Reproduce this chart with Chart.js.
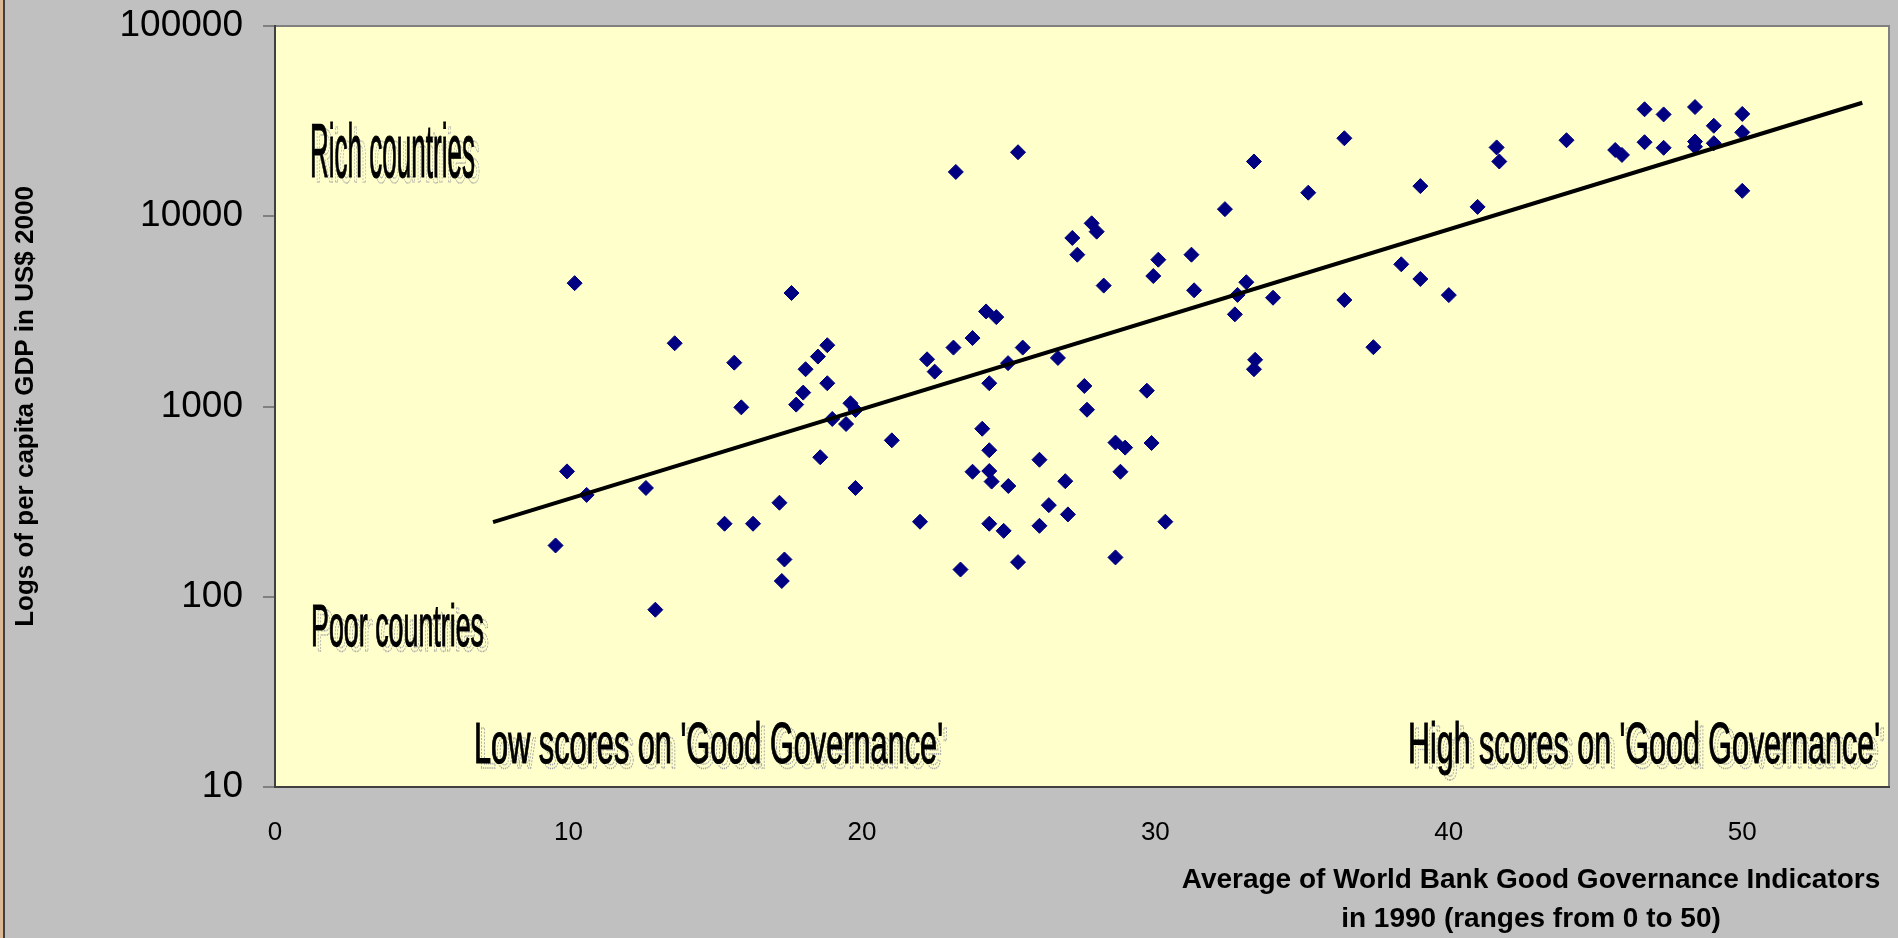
<!DOCTYPE html>
<html><head><meta charset="utf-8">
<script src="https://cdn.jsdelivr.net/npm/chart.js@4.4.1/dist/chart.umd.min.js"></script>
<style>
html,body{margin:0;padding:0;background:#c0c0c0;overflow:hidden}
#wrap{width:1898px;height:938px;position:relative}
</style>
</head><body>
<div id="wrap"><canvas id="c"></canvas></div>
<script>
// ---- data ----
const governance = [9.56,9.95,10.21,10.62,12.64,12.96,13.62,15.32,15.65,15.89,16.29,17.19,17.36,17.27,17.6,17.76,18.0,18.08,18.5,18.82,18.82,18.58,18.99,19.46,19.61,19.78,19.78,21.02,21.98,22.22,22.48,23.12,23.2,23.36,23.77,23.77,24.1,24.23,24.34,24.34,24.34,24.42,24.34,24.58,24.83,24.98,24.99,25.32,25.32,25.48,26.05,26.05,26.37,26.68,26.93,27.02,27.17,27.34,27.58,27.67,27.83,28.0,28.24,28.64,28.64,28.81,28.97,29.71,29.87,29.93,30.1,30.34,31.23,31.32,32.37,32.71,32.8,33.1,33.36,33.4,33.36,34.01,35.21,36.44,36.44,37.43,38.38,39.03,39.03,40.0,40.98,41.63,41.72,44.01,45.67,45.9,46.67,46.67,47.32,47.32,48.39,48.39,48.39,49.03,49.03,50.0,50.0,50.0];
const gdpPerCapita = [186,456,4450,343,373,85.5,2150,242,1700,990,242,312,157,121,3950,1023,1183,1570,1830,2100,1325,541,860,809,1040,959,373,664,248,1770,1525,2040,17100,139,2290,454,764,3160,1325,589,458,403,242,2950,222,1690,382,21700,152,2040,525,236,303,1800,405,271,7690,6280,1282,962,9180,8300,4320,646,161,454,608,1211,643,4850,5910,248,6280,4080,10900,3050,3860,4500,1570,1760,19400,3730,13300,25700,3630,2050,5590,14400,4680,3850,11200,23000,19400,25100,22300,21000,36500,24500,34300,22900,37500,24700,23200,29900,24200,34500,27600,13600];
const trendGovernance = [7.43, 54.09];
const trendGdp = [247, 39500];
const xTicks = [0, 10, 20, 30, 40, 50];
const yTicks = [10, 100, 1000, 10000, 100000];
const yTitle = 'Logs of per capita GDP in US$ 2000';
const xTitle = ['Average of World Bank Good Governance Indicators', 'in 1990 (ranges from 0 to 50)'];
const notes = ['Rich countries', 'Poor countries', "Low scores on 'Good Governance'", "High scores on 'Good Governance'"];

// ---- styling / layout ----
const FONT = '"Liberation Sans", Arial, Helvetica, sans-serif';
const notePlacement = [
  {dx: 35, dy: 150.7, cap: 55, width: 165, anchor: 'left'},
  {dx: 36, dy: 620, cap: 43, width: 173, anchor: 'left'},
  {dx: 199, dy: 737, cap: 41, width: 469, anchor: 'left'},
  {dx: -9, dy: 737, cap: 41, width: 472, anchor: 'right'}
];

function condensed(ctx, text, x, y, capH, width, anchor) {
  const F = capH / 0.716;
  ctx.font = F.toFixed(1) + 'px ' + FONT;
  const w = ctx.measureText(text).width;
  const sx = width / w;
  const left = anchor === 'right' ? x - width : x;
  // shadow
  ctx.save();
  ctx.translate(left + 5, y + 5);
  ctx.scale(sx, 1);
  ctx.strokeStyle = '#a4a4a4';
  ctx.lineWidth = 1.6;
  ctx.setLineDash([2, 1.5]);
  ctx.strokeText(text, 0, 0);
  ctx.restore();
  // main text
  ctx.save();
  ctx.translate(left, y);
  ctx.scale(sx, 1);
  ctx.fillStyle = '#000';
  ctx.fillText(text, 0, 0);
  ctx.strokeStyle = '#000';
  ctx.lineWidth = 1.2;
  ctx.strokeText(text, 0, 0);
  ctx.restore();
}

const decor = {
  id: 'decor',
  beforeDraw(chart) {
    const {ctx, chartArea: a, width, height} = chart;
    ctx.save();
    ctx.fillStyle = '#c0c0c0';
    ctx.fillRect(0, 0, width, height);
    ctx.fillStyle = '#dcb894';
    ctx.fillRect(0, 0, 3, height);
    ctx.fillStyle = '#404040';
    ctx.fillRect(3, 0, 2, height);
    ctx.fillStyle = '#ffffcc';
    ctx.fillRect(a.left, a.top, a.right - a.left, a.bottom - a.top);
    ctx.strokeStyle = '#808080';
    ctx.lineWidth = 2;
    ctx.beginPath();
    ctx.moveTo(a.left, a.top);
    ctx.lineTo(a.right, a.top);
    ctx.lineTo(a.right, a.bottom);
    ctx.stroke();
    ctx.restore();
  },
  beforeDatasetsDraw(chart) {
    const {ctx, chartArea: a} = chart;
    ctx.save();
    ctx.textBaseline = 'alphabetic';
    notes.forEach((t, i) => {
      const p = notePlacement[i];
      const x = p.anchor === 'right' ? a.right + p.dx : a.left + p.dx;
      condensed(ctx, t, x, a.top + p.dy, p.cap, p.width, p.anchor);
    });
    ctx.restore();
  },
  afterDraw(chart) {
    const {ctx} = chart;
    ctx.save();
    ctx.fillStyle = '#000';
    ctx.font = 'bold 28px ' + FONT;
    ctx.textAlign = 'center';
    ctx.textBaseline = 'alphabetic';
    ctx.fillText(xTitle[0], 1531, 888);
    ctx.fillText(xTitle[1], 1531, 926.5);
    ctx.restore();
  }
};

const points = governance.map((g, i) => ({x: g, y: gdpPerCapita[i]}));
const trend = trendGovernance.map((g, i) => ({x: g, y: trendGdp[i]}));

new Chart(document.getElementById('c'), {
  type: 'scatter',
  data: {
    datasets: [
      {
        label: 'Trend',
        data: trend,
        showLine: true,
        borderColor: '#000',
        borderWidth: 4,
        pointRadius: 0,
        fill: false
      },
      {
        label: 'Countries',
        data: points,
        pointStyle: 'rectRot',
        pointRadius: 7.5,
        pointBackgroundColor: '#000080',
        pointBorderColor: '#000080',
        pointBorderWidth: 1
      }
    ]
  },
  options: {
    responsive: true,
    maintainAspectRatio: false,
    animation: false,
    devicePixelRatio: 1,
    layout: {padding: {top: 26, right: 9, left: 0, bottom: 0}},
    plugins: {legend: {display: false}, tooltip: {enabled: false}},
    scales: {
      x: {
        type: 'linear',
        min: 0,
        max: 55,
        afterBuildTicks: s => { s.ticks = xTicks.map(v => ({value: v})); },
        afterFit: s => { s.height = 151; s.paddingLeft = 0; s.paddingRight = 0; },
        grid: {display: false, drawTicks: false},
        border: {display: true, color: '#404040', width: 2},
        ticks: {
          color: '#000',
          padding: 30,
          maxRotation: 0,
          font: {family: FONT, size: 26}
        }
      },
      y: {
        type: 'logarithmic',
        min: 10,
        max: 100000,
        afterBuildTicks: s => { s.ticks = yTicks.map(v => ({value: v})); },
        afterFit: s => { s.width = 275; s.paddingTop = 0; s.paddingBottom = 0; },
        grid: {drawOnChartArea: false, drawTicks: true, tickLength: 12, color: '#808080', lineWidth: 2},
        border: {display: true, color: '#404040', width: 2},
        ticks: {
          color: '#000',
          padding: 20,
          font: {family: FONT, size: 37},
          callback: v => String(v)
        },
        title: {
          display: true,
          text: yTitle,
          color: '#000',
          padding: {top: 10, bottom: 0},
          font: {family: FONT, size: 26, weight: 'bold'}
        }
      }
    }
  },
  plugins: [decor]
});
</script>
</body></html>
